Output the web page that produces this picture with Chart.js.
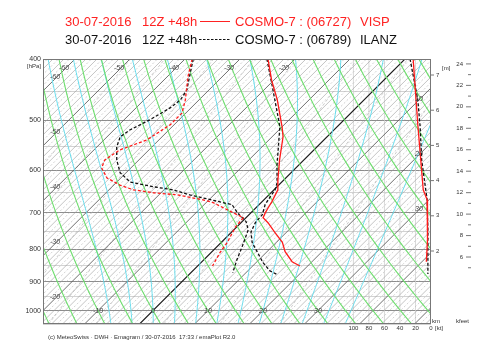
<!DOCTYPE html>
<html>
<head>
<meta charset="utf-8">
<script src="https://cdn.jsdelivr.net/npm/chart.js@4.4.1/dist/chart.umd.min.js"></script>
<style>
  body { margin: 0; background: #fff; }
</style>
</head>
<body>
<canvas id="chart1" width="500" height="350"></canvas>
<script>
// Emagram COSMO-7, 30-07-2016 12Z +48h : VISP (red) and ILANZ (black)
const SKEW = 50; // isotherm skew, deg C per ln(p) unit
const FONT = "'Liberation Sans', Arial, sans-serif";

// VISP (06727) temperature / dew point
const vispTempP = [400, 432, 464, 512, 531, 578, 621, 644, 673, 687, 700, 713, 726, 753, 780, 807, 837, 850];
const vispTempT = [-24.9, -20.4, -15.8, -10.0, -8.0, -4.4, -1.1, 0.7, 1.8, 2.2, 2.6, 3.1, 4.9, 8.0, 11.1, 13.3, 16.4, 18.6];
const vispDewP = [400, 427, 464, 487, 508, 537, 557, 578, 595, 617, 633, 644, 651, 656, 668, 675, 713, 739, 780, 809, 850];
const vispDewT = [-38.7, -36.2, -32.5, -30.7, -30.7, -32.2, -35.3, -36.2, -35.3, -32.5, -28.9, -25.6, -21.4, -16.7, -11.1, -8.7, -0.5, -0.2, 1.1, 1.6, 2.7];

// ILANZ (06789) temperature / dew point
const ilanzTempP = [400, 440, 473, 512, 537, 557, 588, 628, 644, 661, 680, 705, 726, 751, 780, 809, 840, 865, 877];
const ilanzTempT = [-25.1, -19.4, -15.1, -10.4, -8.2, -6.5, -4.0, -0.7, 0.2, 0.6, 1.1, 2.4, 2.6, 3.5, 5.6, 8.4, 11.3, 14.0, 16.0];
const ilanzDewP = [400, 424, 448, 464, 478, 499, 518, 531, 551, 578, 605, 626, 637, 644, 656, 680, 700, 723, 745, 793, 831, 871];
const ilanzDewT = [-38.5, -36.2, -34.0, -33.4, -33.8, -35.3, -37.1, -37.6, -36.4, -34.0, -31.1, -27.6, -22.5, -18.4, -14.4, -4.9, -2.5, 0.7, 2.6, 4.6, 6.0, 7.6];

// wind speed [kt]
const vispWindP = [400, 508, 644, 668, 700, 773, 837];
const vispWindKt = [23, 17, 10, 5, 4, 5, 6];
const ilanzWindP = [400, 464, 512, 578, 668, 745, 875];
const ilanzWindKt = [27, 17, 14, 12, 5, 4, 4];

// axes / labels
const pressureTicks = [400, 500, 600, 700, 800, 900, 1000];
const pressureGrid = [400, 450, 500, 550, 600, 650, 700, 750, 800, 850, 900, 950, 1000, 1050];
const windTicks = [0, 20, 40, 60, 80, 100];
const kmTicks = [2, 3, 4, 5, 6, 7];
const kfeetTicks = [6, 8, 10, 12, 14, 16, 18, 20, 22, 24];
const isoTopLabels = [-60, -50, -40, -30, -20];
const isoLeftLabels = [-60, -50, -40, -30, -20];
const isoRightLabels = [10, 20, 30];
const isoBottomLabels = [-10, 0, 10, 20, 30];

// background line sets
const dryAdiabats = [];   // theta in deg C, every 5 K
for (let t = -30; t <= 95; t += 5) dryAdiabats.push(t);
const moistAdiabats = [-8, -4, 0, 4, 8, 12, 16, 20, 24, 28, 32, 36];
const mixingRatios = [0.1, 0.2, 0.5, 1, 2, 5, 10, 20];

const skewX = (p, t) => t + SKEW * Math.log(1000 / p);
const profile = (ps, ts) => ps.map((p, i) => ({ x: skewX(p, ts[i]), y: p }));
const windLine = (ps, ks) => ps.map((p, i) => ({ x: ks[i], y: p }));

const moistLine = tw => {
    const Rd = 287.04, cp = 1005.7, Lv = 2.501e6, eps = 0.622;
    const rate = (p, T) => {
        const tc = T - 273.15;
        const es = 6.112 * Math.exp(17.67 * tc / (tc + 243.5));
        const rs = eps * es / (p - es);
        return (Rd * T + Lv * rs) / (p * (cp + Lv * Lv * rs * eps / (Rd * T * T)));
    };
    const pts = [];
    let T = tw + 273.15;
    for (let p = 1000; p > 395; p -= 5) {
        pts.push([skewX(p, T - 273.15), p]);
        const k = rate(p - 2.5, T - 2.5 * rate(p, T));
        T -= 5 * k;
    }
    T = tw + 273.15;
    const low = [];
    for (let p = 1000; p <= 1055; p += 5) {
        low.push([skewX(p, T - 273.15), p]);
        T += 5 * rate(p + 2.5, T + 2.5 * rate(p, T));
    }
    return low.reverse().concat(pts);
};

const drawCurve = (ctx, xs, ys, pts) => {
    ctx.beginPath();
    pts.forEach((pt, i) => {
        const px = xs.getPixelForValue(pt[0]);
        const py = ys.getPixelForValue(pt[1]);
        if (i === 0) ctx.moveTo(px, py); else ctx.lineTo(px, py);
    });
    ctx.stroke();
};

const text = (ctx, str, x, y, font, color, align) => {
    ctx.font = font;
    ctx.fillStyle = color;
    ctx.textAlign = align || 'left';
    ctx.fillText(str, x, y);
};

const emagram = {
    id: 'emagram',
    beforeDatasetsDraw(chart) {
        const { ctx, chartArea: a } = chart;
        const xs = chart.scales.x, ys = chart.scales.y, xw = chart.scales.xw;
        ctx.save();
        ctx.beginPath();
        ctx.rect(a.left, a.top, a.right - a.left, a.bottom - a.top);
        ctx.clip();

        // wind speed grid
        ctx.strokeStyle = '#cfcfcf';
        ctx.lineWidth = 0.8;
        windTicks.slice(1).forEach(k => {
            const px = xw.getPixelForValue(k);
            ctx.beginPath(); ctx.moveTo(px, a.top); ctx.lineTo(px, a.bottom); ctx.stroke();
        });

        // isotherms, every degree (odd ones dashed)
        for (let t = -90; t <= 56; t++) {
            if (t % 10 === 0) continue;
            if (t % 2) {
                ctx.strokeStyle = '#b2b2b2';
                ctx.setLineDash([2, 2]);
            } else {
                ctx.strokeStyle = '#9c9c9c';
                ctx.setLineDash([]);
            }
            ctx.lineWidth = 0.6;
            drawCurve(ctx, xs, ys, [[skewX(1050, t), 1050], [skewX(400, t), 400]]);
        }
        ctx.setLineDash([]);

        // mixing ratio lines
        ctx.strokeStyle = '#aaaaaa';
        ctx.lineWidth = 0.6;
        ctx.setLineDash([3, 2]);
        mixingRatios.forEach(w => {
            const pts = [];
            for (let p = 1050; p >= 400; p -= 50) {
                const l = Math.log(w * p / (622 + w) / 6.112);
                pts.push([skewX(p, 243.5 * l / (17.67 - l)), p]);
            }
            drawCurve(ctx, xs, ys, pts);
        });
        ctx.setLineDash([]);

        for (let t = -90; t <= 50; t += 10) {
            ctx.strokeStyle = t === 0 ? '#1a1a1a' : '#5e5e5e';
            ctx.lineWidth = t === 0 ? 1.1 : 0.9;
            drawCurve(ctx, xs, ys, [[skewX(1050, t), 1050], [skewX(400, t), 400]]);
        }

        // moist adiabats
        ctx.strokeStyle = '#66dcec';
        ctx.lineWidth = 1;
        moistAdiabats.forEach(tw => drawCurve(ctx, xs, ys, moistLine(tw)));

        // dry adiabats
        ctx.strokeStyle = '#6ede6e';
        ctx.lineWidth = 1.1;
        dryAdiabats.forEach(th => {
            const pts = [];
            for (let p = 1050; p >= 400; p -= 25) {
                const t = (th + 273.15) * Math.pow(p / 1000, 0.2857) - 273.15;
                pts.push([skewX(p, t), p]);
            }
            drawCurve(ctx, xs, ys, pts);
        });
        ctx.restore();
    },
    afterDatasetsDraw(chart) {
        const { ctx, chartArea: a } = chart;
        const xs = chart.scales.x, ys = chart.scales.y, xw = chart.scales.xw, yh = chart.scales.yh;
        ctx.save();
        // frame
        ctx.strokeStyle = '#777';
        ctx.lineWidth = 1;
        ctx.strokeRect(a.left + 0.5, a.top + 0.5, a.right - a.left - 1, a.bottom - a.top - 1);

        // isotherm labels
        const iso = 'italic 7px ' + FONT;
        ctx.textBaseline = 'middle';
        isoTopLabels.forEach(t => {
            const p = ys.getValueForPixel(a.top + 9);
            text(ctx, String(t), xs.getPixelForValue(skewX(p, t)) - 2, a.top + 9, iso, '#444', 'center');
        });
        isoLeftLabels.forEach(t => {
            const X = xs.getValueForPixel(a.left + 14);
            const p = 1000 * Math.exp(-(X - t) / SKEW);
            text(ctx, String(t), a.left + 12, ys.getPixelForValue(p), iso, '#444', 'center');
        });
        isoRightLabels.forEach(t => {
            const X = xs.getValueForPixel(a.right - 11);
            const p = 1000 * Math.exp(-(X - t) / SKEW);
            text(ctx, String(t), a.right - 12, ys.getPixelForValue(p), iso, '#444', 'center');
        });
        isoBottomLabels.forEach(t => {
            text(ctx, String(t), xs.getPixelForValue(skewX(1000, t)), ys.getPixelForValue(1000), iso, '#444', 'center');
        });

        // [hPa]
        const small = '6px ' + FONT;
        text(ctx, '[hPa]', 41, a.top + 7, small, '#333', 'right');

        // height axis (km) next to the plot
        ctx.strokeStyle = '#555';
        ctx.lineWidth = 0.8;
        kmTicks.forEach(k => {
            const py = yh.getPixelForValue(k);
            ctx.beginPath(); ctx.moveTo(a.right, py); ctx.lineTo(a.right + 3, py); ctx.stroke();
            text(ctx, String(k), a.right + 5, py, small, '#333', 'left');
        });
        text(ctx, '[m]', 442, a.top + 9, small, '#333', 'left');
        text(ctx, 'km', 432, a.bottom - 3, small, '#333', 'left');

        // kfeet axis
        for (let f = 5; f <= 24; f++) {
            const py = yh.getPixelForValue(f * 0.3048);
            const major = kfeetTicks.includes(f);
            ctx.beginPath(); ctx.moveTo(major ? 466 : 468, py); ctx.lineTo(471, py); ctx.stroke();
            if (major) text(ctx, String(f), 463, py, small, '#333', 'right');
        }
        text(ctx, 'kfeet', 456, a.bottom - 3, small, '#333', 'left');

        // wind speed labels
        windTicks.forEach(k => {
            text(ctx, String(k), xw.getPixelForValue(k), a.bottom + 4, small, '#333', 'center');
        });
        text(ctx, '[kt]', a.right + 4, a.bottom + 4, small, '#333', 'left');

        // footer
        ctx.textBaseline = 'alphabetic';
        text(ctx, '(c) MeteoSwiss · DWH · Emagram / 30-07-2016  17:33 / emaPlot R2.0', 48, 339, small, '#333', 'left');

        // title lines
        const tf = '13px ' + FONT;
        const red = '#ff2222', blk = '#111';
        text(ctx, '30-07-2016', 65, 26, tf, red);
        text(ctx, '12Z +48h', 142, 26, tf, red);
        text(ctx, 'COSMO-7 : (06727)', 235, 26, tf, red);
        text(ctx, 'VISP', 360, 26, tf, red);
        ctx.strokeStyle = red; ctx.lineWidth = 1;
        ctx.beginPath(); ctx.moveTo(200, 21.5); ctx.lineTo(230, 21.5); ctx.stroke();
        text(ctx, '30-07-2016', 65, 44, tf, blk);
        text(ctx, '12Z +48h', 142, 44, tf, blk);
        text(ctx, 'COSMO-7 : (06789)', 235, 44, tf, blk);
        text(ctx, 'ILANZ', 360, 44, tf, blk);
        ctx.strokeStyle = blk; ctx.setLineDash([2.5, 1.5]);
        ctx.beginPath(); ctx.moveTo(199, 39.5); ctx.lineTo(230, 39.5); ctx.stroke();
        ctx.restore();
    }
};

const line = (label, data, color, dash, xAxisID) => ({
    label, data, xAxisID: xAxisID || 'x', yAxisID: 'y',
    borderColor: color, borderWidth: 1.3, borderDash: dash || [],
    pointRadius: 0, tension: 0, fill: false
});

const chart = new Chart(document.getElementById('chart1').getContext('2d'), {
    type: 'line',
    data: {
        datasets: [
            line('VISP T', profile(vispTempP, vispTempT), '#ff1a1a'),
            line('VISP Td', profile(vispDewP, vispDewT), '#ff1a1a', [3, 2]),
            line('ILANZ T', profile(ilanzTempP, ilanzTempT), '#111', [3, 2]),
            line('ILANZ Td', profile(ilanzDewP, ilanzDewT), '#111', [3, 2]),
            line('VISP wind', windLine(vispWindP, vispWindKt), '#ff1a1a', [], 'xw'),
            line('ILANZ wind', windLine(ilanzWindP, ilanzWindKt), '#111', [3, 2], 'xw')
        ]
    },
    options: {
        responsive: false,
        animation: false,
        layout: { padding: { left: 0, right: 69, top: 59, bottom: 26 } },
        plugins: { legend: { display: false }, tooltip: { enabled: false }, title: { display: false } },
        scales: {
            x: { type: 'linear', min: -20, max: 50.55, display: false },
            xw: { type: 'linear', min: 0, max: 500, reverse: true, display: false },
            yh: { type: 'linear', min: -0.074, max: 7.455, display: false },
            y: {
                type: 'logarithmic', min: 400, max: 1050, reverse: true, position: 'left',
                afterBuildTicks: axis => { axis.ticks = pressureGrid.map(v => ({ value: v })); },
                afterFit: axis => { axis.width = 43; },
                ticks: {
                    callback: v => pressureTicks.includes(v) ? String(v) : '',
                    font: { size: 7, family: FONT }, color: '#333', padding: 2, autoSkip: false, maxRotation: 0
                },
                grid: {
                    color: c => c.tick && c.tick.value % 100 === 0 ? '#8c8c8c' : '#d2d2d2',
                    drawTicks: false, lineWidth: 1
                },
                border: { display: false }
            }
        }
    },
    plugins: [emagram]
});
</script>
</body>
</html>
